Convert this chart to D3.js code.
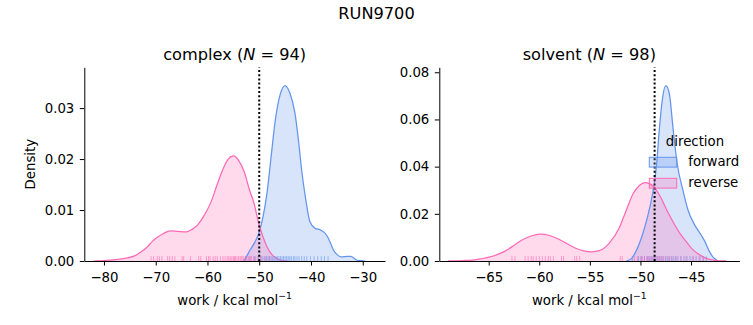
<!DOCTYPE html>
<html>
<head>
<meta charset="utf-8">
<script src="https://cdn.jsdelivr.net/npm/d3@7"></script>
<style>
body { margin: 0; background: #fff; }
svg { display: block; }
text { font-family: "DejaVu Sans", sans-serif; fill: #000; }
</style>
</head>
<body>
<svg></svg>
<script>
// density curves: [work, density]
var complexForward = [[-53.0,0],[-52.5,0.0008],[-51.75,0.0022],[-50.9,0.0036],[-50.1,0.0054],[-49.3,0.0085],[-48.5,0.0133],[-47.7,0.0205],[-46.9,0.0276],[-46.0,0.0325],[-45.0,0.0344],[-44.1,0.0330],[-43.1,0.0290],[-42.4,0.0235],[-41.8,0.0178],[-41.0,0.0120],[-40.2,0.0077],[-39.2,0.0064],[-38.2,0.0061],[-37.0,0.0051],[-36.3,0.0037],[-35.7,0.0022],[-34.9,0.0012],[-34.1,0.0008],[-33.0,0.0009],[-32.3,0.0009],[-31.5,0.0004],[-30.9,0.0001],[-29.5,0]];
var complexReverse = [[-82.0,0],[-79.5,0.0001],[-77.3,0.0003],[-75.5,0.0006],[-74.1,0.0010],[-72.8,0.0018],[-71.6,0.0028],[-70.6,0.0039],[-69.9,0.0045],[-68.5,0.0054],[-67.2,0.0059],[-65.7,0.0058],[-64.1,0.0057],[-63.0,0.0062],[-61.9,0.0071],[-60.6,0.0090],[-59.3,0.0116],[-58.2,0.0148],[-57.1,0.0178],[-56.0,0.0200],[-55.0,0.0206],[-53.9,0.0196],[-52.9,0.0175],[-51.9,0.0140],[-51.0,0.0113],[-50.1,0.0074],[-49.3,0.0048],[-48.5,0.0028],[-47.5,0.0012],[-46.6,0.0005],[-45.5,0.0001],[-44.5,0]];
var solventForward = [[-51.4,0],[-50.9,0.0010],[-50.4,0.0045],[-49.7,0.0125],[-49.06,0.0230],[-48.7,0.0310],[-48.4,0.0410],[-48.14,0.0555],[-47.85,0.0680],[-47.5,0.0743],[-47.15,0.0710],[-46.76,0.0555],[-46.36,0.0410],[-45.8,0.0300],[-45.3,0.0216],[-44.6,0.0150],[-44.0,0.0110],[-43.6,0.0080],[-43.2,0.0042],[-42.8,0.0015],[-42.3,0]];
var solventReverse = [[-69.0,0],[-67.5,0.0002],[-66.6,0.0004],[-65.8,0.0009],[-64.97,0.0016],[-64.1,0.0028],[-63.3,0.0044],[-62.5,0.0066],[-61.7,0.0089],[-60.8,0.0106],[-59.9,0.0114],[-59.0,0.0108],[-58.05,0.0092],[-57.2,0.0072],[-56.4,0.0054],[-55.6,0.0043],[-54.8,0.0039],[-54.0,0.0045],[-53.1,0.0075],[-52.1,0.0140],[-51.4,0.0215],[-50.7,0.0287],[-50.1,0.0320],[-49.55,0.0332],[-48.7,0.0315],[-48.0,0.0270],[-47.4,0.0216],[-46.7,0.0160],[-46.1,0.0117],[-45.4,0.0078],[-44.8,0.0047],[-44.1,0.0025],[-43.5,0.0011],[-42.5,0.0002],[-41.5,0]];

// rug values
var complexForwardRug = [-52.6,-51.8,-50.9,-50.2,-49.8,-49.3,-48.9,-48.6,-48.3,-48.0,-47.7,-47.4,-47.1,-46.8,-46.5,-46.2,-45.9,-45.6,-45.3,-45.0,-44.7,-44.4,-44.1,-43.8,-43.4,-43.1,-42.7,-42.3,-41.8,-41.3,-40.8,-40.1,-39.4,-38.7,-38.0,-37.4,-36.7];
var complexReverseRug = [-70.9,-70.4,-69.7,-69.3,-68.8,-67.7,-67.3,-66.8,-66.3,-64.9,-64.6,-63.3,-61.7,-61.3,-60.2,-59.8,-59.5,-58.9,-58.5,-58.1,-57.5,-57.0,-56.6,-56.2,-55.9,-55.6,-55.3,-55.0,-54.8,-54.6,-54.3,-54.0,-53.7,-53.5,-53.3,-53.0,-52.7,-52.4,-52.1,-51.8,-51.5,-51.1,-50.7,-50.2,-49.6,-48.9,-48.1];
var solventForwardRug = [-50.8,-50.2,-49.9,-49.6,-49.3,-49.1,-48.9,-48.7,-48.5,-48.3,-48.1,-47.9,-47.7,-47.5,-47.3,-47.1,-46.9,-46.7,-46.5,-46.3,-46.0,-45.7,-45.4,-45.1,-44.8,-44.5,-44.1,-43.8,-43.5];
var solventReverseRug = [-62.7,-62.4,-61.4,-61.1,-60.8,-60.6,-60.3,-60.0,-59.7,-59.4,-59.1,-58.9,-58.6,-57.8,-57.6,-56.5,-56.3,-56.0,-52.0,-51.8,-50.6,-50.3,-50.0,-49.8,-49.6,-49.4,-49.2,-49.0,-48.8,-48.6,-48.4,-48.2,-48.0,-47.8,-47.5,-47.2,-46.9,-46.5,-46.0,-45.5,-44.8,-44.2,-43.8];

var complexTicksX = [-80, -70, -60, -50, -40, -30];
var complexTicksY = [0, 0.01, 0.02, 0.03];
var solventTicksX = [-65, -60, -55, -50, -45];
var solventTicksY = [0, 0.02, 0.04, 0.06, 0.08];

var complexMean = -50.0;
var solventMean = -48.6;

var directions = ["forward", "reverse"];
var colors = { forward: "#6495ed", reverse: "#ff69b4" };

var svg = d3.select("svg").attr("width", 753).attr("height", 325);
svg.append("rect").attr("width", 753).attr("height", 325).attr("fill", "#fff");

var plotTop = 67.3, plotBottom = 261;
var labelSize = 13.3, titleSize = 16.2;

var panels = [
    { name: "complex", n: 94, left: 84.3, right: 385, xDomain: [-83.8, -25.7], yDomain: [0, 0.038],
      xTicks: complexTicksX, yTicks: complexTicksY, mean: complexMean,
      curves: { forward: complexForward, reverse: complexReverse },
      rugs: { forward: complexForwardRug, reverse: complexReverseRug }, ylabel: true },
    { name: "solvent", n: 98, left: 439.3, right: 739.3, xDomain: [-69.88, -40.23], yDomain: [0, 0.0821],
      xTicks: solventTicksX, yTicks: solventTicksY, mean: solventMean,
      curves: { forward: solventForward, reverse: solventReverse },
      rugs: { forward: solventForwardRug, reverse: solventReverseRug }, legend: true }
];

svg.append("text")
    .attr("x", 376.5).attr("y", 19)
    .attr("text-anchor", "middle")
    .attr("font-size", titleSize)
    .text("RUN9700");

function drawPanel(p) {
    var x = d3.scaleLinear().domain(p.xDomain).range([p.left, p.right]);
    var y = d3.scaleLinear().domain(p.yDomain).range([plotBottom, plotTop]);
    var g = svg.append("g");

    var area = d3.area()
        .curve(d3.curveMonotoneX)
        .x(function (d) { return x(d[0]); })
        .y0(y(0))
        .y1(function (d) { return y(d[1]); });
    var line = d3.line()
        .curve(d3.curveMonotoneX)
        .x(function (d) { return x(d[0]); })
        .y(function (d) { return y(d[1]); });

    directions.forEach(function (dir) {
        g.append("path")
            .attr("d", area(p.curves[dir]))
            .attr("fill", colors[dir])
            .attr("fill-opacity", 0.25);
    });
    directions.forEach(function (dir) {
        g.append("path")
            .attr("d", line(p.curves[dir]))
            .attr("fill", "none")
            .attr("stroke", colors[dir])
            .attr("stroke-width", 1.25);
    });

    var rugH = (plotBottom - plotTop) * 0.025;
    directions.forEach(function (dir) {
        g.selectAll(".rug-" + dir)
            .data(p.rugs[dir])
            .enter().append("line")
            .attr("class", "rug-" + dir)
            .attr("x1", function (d) { return x(d); })
            .attr("x2", function (d) { return x(d); })
            .attr("y1", y(0))
            .attr("y2", y(0) - rugH)
            .attr("stroke", colors[dir])
            .attr("stroke-opacity", 0.6)
            .attr("stroke-width", 1);
    });

    g.append("line")
        .attr("x1", x(p.mean)).attr("x2", x(p.mean))
        .attr("y1", plotBottom).attr("y2", plotTop)
        .attr("stroke", "#000")
        .attr("stroke-width", 2)
        .attr("stroke-dasharray", "2,2.2");

    var xAxis = g.append("g")
        .attr("transform", "translate(0," + plotBottom + ")")
        .call(d3.axisBottom(x).tickValues(p.xTicks).tickFormat(d3.format("d"))
            .tickSize(4.5).tickSizeOuter(0).tickPadding(7));
    var yAxis = g.append("g")
        .attr("transform", "translate(" + p.left + ",0)")
        .call(d3.axisLeft(y).tickValues(p.yTicks).tickFormat(d3.format(".2f"))
            .tickSize(4.5).tickSizeOuter(0).tickPadding(5.5));
    [xAxis, yAxis].forEach(function (a) {
        a.attr("font-size", labelSize).attr("font-family", "DejaVu Sans, sans-serif");
        a.selectAll("text").attr("fill", "#000");
        a.selectAll("line, path").attr("stroke", "#000").attr("stroke-width", 1);
    });

    var cx = (p.left + p.right) / 2;
    var title = g.append("text")
        .attr("x", cx).attr("y", 60)
        .attr("text-anchor", "middle")
        .attr("font-size", titleSize);
    title.append("tspan").text(p.name + " (");
    title.append("tspan").attr("font-style", "italic").text("N");
    title.append("tspan").text(" = " + p.n + ")");

    var xl = g.append("text")
        .attr("x", cx).attr("y", 305)
        .attr("text-anchor", "middle")
        .attr("font-size", labelSize);
    xl.append("tspan").text("work / kcal mol");
    xl.append("tspan").attr("font-size", 9.3).attr("dy", -5.6).text("\u22121");

    if (p.ylabel) {
        g.append("text")
            .attr("transform", "translate(35," + ((plotTop + plotBottom) / 2) + ") rotate(-90)")
            .attr("text-anchor", "middle")
            .attr("font-size", labelSize)
            .text("Density");
    }

    if (p.legend) {
        var lg = g.append("g");
        lg.append("text")
            .attr("x", 695).attr("y", 145.7)
            .attr("text-anchor", "middle")
            .attr("font-size", labelSize)
            .text("direction");
        directions.forEach(function (dir, i) {
            var yy = 157.3 + i * 21;
            lg.append("rect")
                .attr("x", 649.3).attr("y", yy)
                .attr("width", 27.4).attr("height", 9.8)
                .attr("fill", colors[dir])
                .attr("fill-opacity", 0.25)
                .attr("stroke", colors[dir])
                .attr("stroke-width", 1);
            lg.append("text")
                .attr("x", 688.3).attr("y", yy + 8.8)
                .attr("font-size", labelSize)
                .text(dir);
        });
    }
}

panels.forEach(drawPanel);
</script>
</body>
</html>
